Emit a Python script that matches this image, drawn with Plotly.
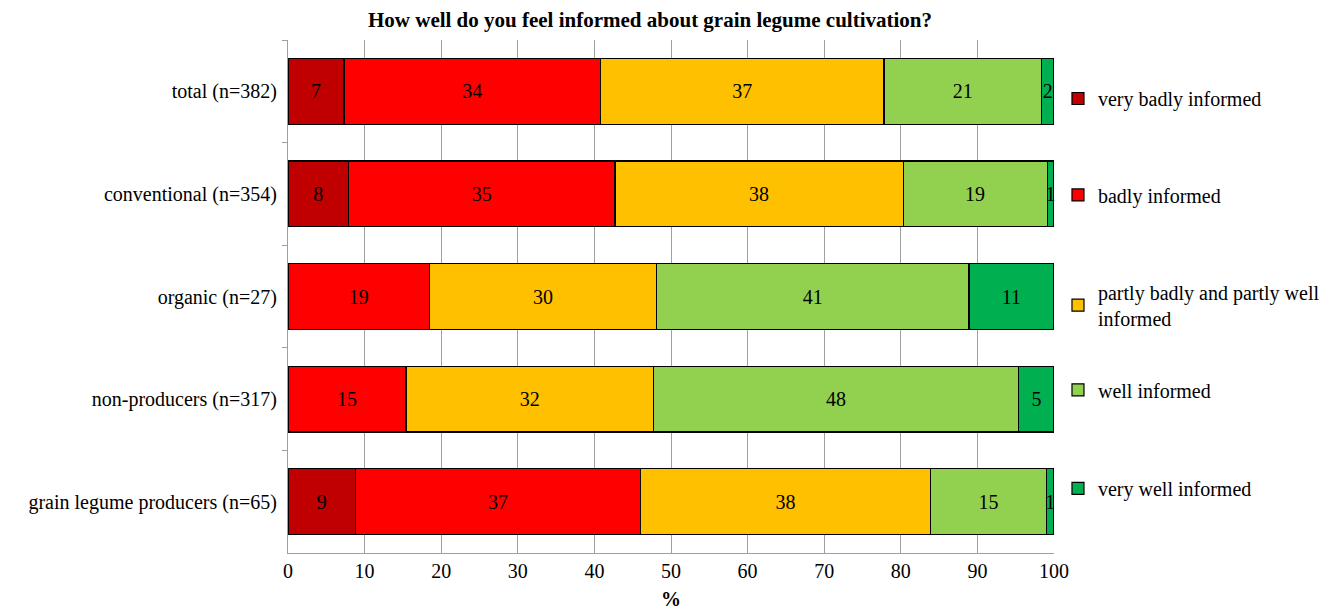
import plotly.graph_objects as go

categories = ["total (n=382)", "conventional (n=354)", "organic (n=27)",
              "non-producers (n=317)", "grain legume producers (n=65)"]

very_badly = [7.3, 7.9, 0, 0, 8.8]
badly = [33.5, 34.8, 18.5, 15.4, 37.2]
partly = [37.0, 37.6, 29.6, 32.3, 37.9]
well = [20.6, 18.8, 40.8, 47.7, 15.1]
very_well = [1.6, 0.9, 11.1, 4.6, 1.0]

series_names = ["very badly informed", "badly informed",
                "partly badly and partly well<br>informed",
                "well informed", "very well informed"]
series_values = [very_badly, badly, partly, well, very_well]
series_colors = ["#C00000", "#FF0000", "#FFC000", "#92D050", "#00B050"]

x_ticks = [0, 10, 20, 30, 40, 50, 60, 70, 80, 90, 100]

FONT = "Liberation Serif"
FS = 20

# legend item vertical positions (paper fraction), one legend per series
legend_y = [0.886, 0.698, 0.483, 0.318, 0.126]

fig = go.Figure()
for i, (name, vals, col) in enumerate(zip(series_names, series_values, series_colors)):
    texts = [str(int(v + 0.5)) if v > 0 else "" for v in vals]
    fig.add_trace(go.Bar(
        y=categories, x=vals, name=name, orientation="h",
        marker=dict(color=col, line=dict(color="black", width=1.2)),
        text=texts, textposition="inside", insidetextanchor="middle",
        textangle=0, textfont=dict(family=FONT, size=FS, color="black"),
        width=0.64, cliponaxis=False,
        legend="legend" if i == 0 else f"legend{i + 1}",
    ))

legend_common = dict(x=1.0052, xanchor="left", yanchor="middle", itemwidth=30,
                     font=dict(family=FONT, size=FS, color="black"),
                     bgcolor="rgba(0,0,0,0)", borderwidth=0)

layout_legends = {}
for i, ly in enumerate(legend_y):
    key = "legend" if i == 0 else f"legend{i + 1}"
    layout_legends[key] = dict(y=ly, **legend_common)

fig.update_layout(
    barmode="stack",
    width=1333, height=610,
    margin=dict(l=280, r=287, t=32, b=62),
    paper_bgcolor="white", plot_bgcolor="white",
    font=dict(family=FONT, size=FS, color="black"),
    title=dict(text="<b>How well do you feel informed about grain legume cultivation?</b>",
               x=642 / 1333, xref="container", xanchor="center",
               y=1 - 12 / 610, yref="container", yanchor="middle",
               font=dict(family=FONT, size=21, color="black")),
    uniformtext=dict(mode="show", minsize=FS),
    showlegend=True,
    **layout_legends,
)

fig.update_xaxes(range=[0, 100], tickvals=x_ticks, ticktext=[str(t) for t in x_ticks],
                 showgrid=True, gridcolor="#A0A0A0", gridwidth=1.3,
                 showline=True, linecolor="#A0A0A0", linewidth=1.3,
                 ticks="", zeroline=False,
                 title=dict(text="<b>%</b>", font=dict(family=FONT, size=FS), standoff=10),
                 tickfont=dict(family=FONT, size=FS))
fig.update_yaxes(autorange="reversed", showgrid=False,
                 showline=True, linecolor="#A0A0A0", linewidth=1.3,
                 ticks="outside", tickson="boundaries", ticklen=5, tickcolor="#A0A0A0",
                 tickwidth=1.3,
                 tickfont=dict(family=FONT, size=FS), ticklabelstandoff=6)

fig.write_html("out.html")
